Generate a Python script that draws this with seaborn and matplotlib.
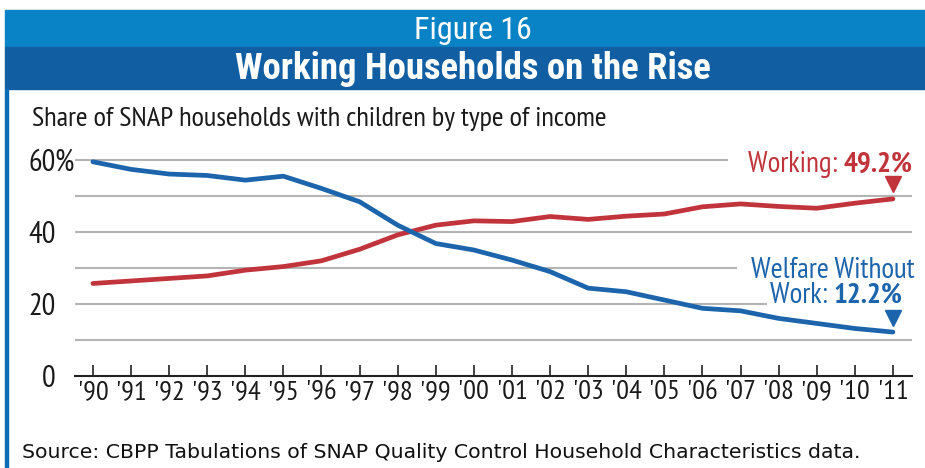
import matplotlib
matplotlib.use("Agg")
import matplotlib.pyplot as plt
from matplotlib.patches import Rectangle
import pandas as pd
import seaborn as sns

years = list(range(1990, 2012))
year_labels = ["'" + str(y)[2:] for y in years]
working = [25.7, 26.4, 27.1, 27.8, 29.4, 30.4, 32.0, 35.2, 39.2, 41.9, 43.1,
           42.9, 44.3, 43.5, 44.4, 45.0, 47.0, 47.8, 47.1, 46.6, 48.0, 49.2]
welfare = [59.5, 57.4, 56.1, 55.7, 54.4, 55.5, 52.1, 48.4, 41.9, 36.8, 35.0,
           32.2, 29.0, 24.4, 23.4, 21.1, 18.8, 18.1, 16.0, 14.6, 13.2, 12.2]
y_ticks = [0, 20, 40, 60]
grid_levels = [10, 20, 30, 40, 50, 60]

RED = "#c1343c"
BLUE = "#1c64ab"
NARROW = ["PT Sans Narrow", "DejaVu Sans"]
BANNER_FONT = ["Roboto Condensed", "DejaVu Sans"]
SOURCE_FONT = ["DejaVu Sans"]

sns.set_theme(style="white")
plt.rcParams["font.family"] = NARROW

W, H = 925, 468
fig = plt.figure(figsize=(W / 100, H / 100), dpi=100)


def fy(py):
    return 1 - py / H


# banner and left border
fig.patches.append(Rectangle((5 / W, fy(47)), 1, 37 / H, transform=fig.transFigure,
                             color="#0a83c6", zorder=0))
fig.patches.append(Rectangle((5 / W, fy(89)), 1, 42 / H, transform=fig.transFigure,
                             color="#115fa2", zorder=0))
fig.patches.append(Rectangle((5 / W, 0), 3 / W, fy(89), transform=fig.transFigure,
                             color="#0b6db5", zorder=0))
fig.text(473 / W, fy(39), "Figure 16", color="white", fontsize=23,
         family=BANNER_FONT, ha="center", va="baseline")
fig.text(473 / W, fy(79), "Working Households on the Rise", color="white",
         fontsize=26.5, fontweight="bold", family=BANNER_FONT, ha="center", va="baseline")
fig.text(32 / W, fy(126), "Share of SNAP households with children by type of income",
         fontsize=20.5, ha="left", va="baseline", color="#1a1a1a")
fig.text(22 / W, fy(458), "Source: CBPP Tabulations of SNAP Quality Control Household Characteristics data.",
         fontsize=14.7, family=SOURCE_FONT, ha="left", va="baseline", color="#111111")

ax = fig.add_axes([75 / W, fy(376), 837 / W, (376 - 152.8) / H])
ax.set_facecolor("none")

df = pd.DataFrame({
    "pos": list(range(len(years))) * 2,
    "share": working + welfare,
    "series": ["Working"] * len(years) + ["Welfare Without Work"] * len(years),
})
sns.lineplot(data=df, x="pos", y="share", hue="series",
             palette={"Working": RED, "Welfare Without Work": BLUE},
             linewidth=3.4, legend=False, ax=ax, zorder=3)

ax.set_xlim(-0.47, 21.5)
ax.set_ylim(0, 62)

# partial gridlines (shortened where labels sit)
grid_ends = {60: 16.67, 50: 21.5, 40: 21.5, 30: 16.9, 20: 17.7, 10: 21.5}
for g in grid_levels:
    ax.hlines(g, -0.47, grid_ends[g], color="#b4b4b4", linewidth=1.5, zorder=1)

for side in ["top", "right", "left"]:
    ax.spines[side].set_visible(False)
ax.spines["bottom"].set_color("#222222")
ax.spines["bottom"].set_linewidth(1.5)

ax.set_xticks(range(len(years)))
ax.set_xticklabels(year_labels, fontsize=20.5)
ax.tick_params(axis="x", direction="in", length=8, width=1.2, color="#222222",
               pad=3, bottom=True, labelcolor="#1a1a1a")
ax.set_yticks(y_ticks)
ax.set_yticklabels([str(t) for t in y_ticks], fontsize=22)
ax.tick_params(axis="y", length=0, pad=14, labelcolor="#1a1a1a")
ax.text(-0.47 - 21 / 38.1, 60, "%", fontsize=22, ha="left", va="center_baseline",
        color="#1a1a1a")
ax.set_xlabel("")
ax.set_ylabel("")

# end labels
wb = ax.text(21.52, 56.7, "49.2%", color=RED, fontsize=21, fontweight="bold",
             ha="right", va="baseline")
ax.annotate("Working: ", xy=(0, 56.7), xycoords=(wb, "data"), color=RED,
            fontsize=21, ha="right", va="baseline")
ax.plot([21], [53.2], marker="v", markersize=12, color=RED, clip_on=False)

ax.text(21.57, 27.2, "Welfare Without", color=BLUE, fontsize=21, ha="right",
        va="baseline")
bb = ax.text(21.26, 20.3, "12.2%", color=BLUE, fontsize=21, fontweight="bold",
             ha="right", va="baseline")
ax.annotate("Work: ", xy=(0, 20.3), xycoords=(bb, "data"), color=BLUE,
            fontsize=21, ha="right", va="baseline")
ax.plot([21], [16.2], marker="v", markersize=12, color=BLUE, clip_on=False)

fig.savefig("out.png", dpi=100)
